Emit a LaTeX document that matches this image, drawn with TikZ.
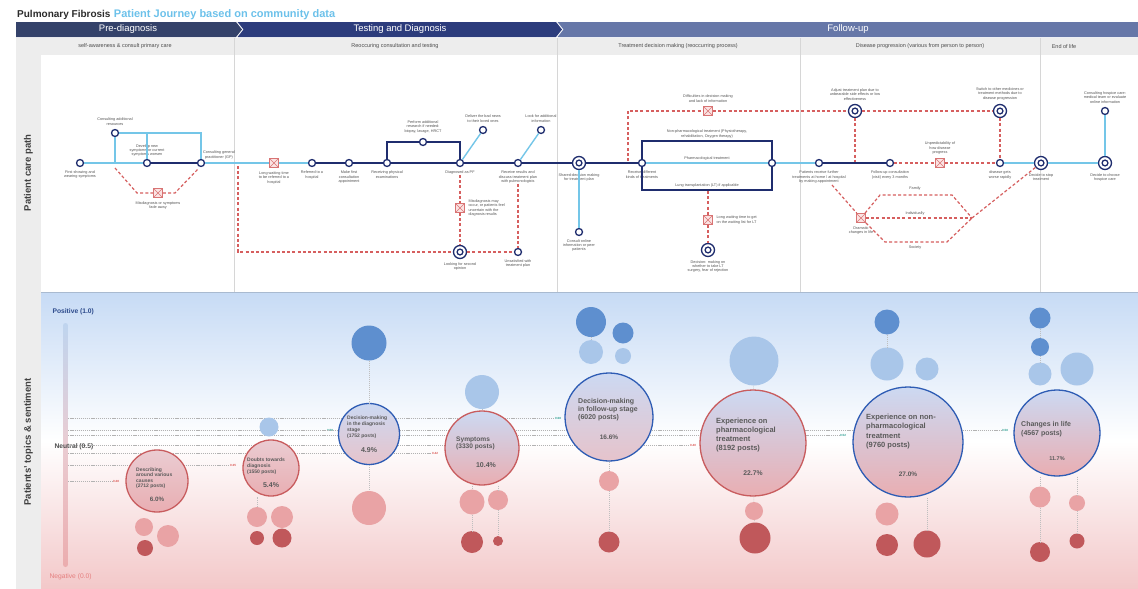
\documentclass[tikz,border=0pt]{standalone}
\usepackage{fontspec}
\setmainfont{Liberation Sans}
\usepackage{xcolor}
\usepackage{tikz}
\usetikzlibrary{positioning}

\definecolor{inkdark}{HTML}{2B2B2B}
\definecolor{titleblue}{HTML}{6CC1EA}
\definecolor{phasepre}{HTML}{34426A}
\definecolor{phasetest}{HTML}{2C3C7C}
\definecolor{phasefollow}{HTML}{6677A8}
\definecolor{stripgray}{HTML}{EDEDED}
\definecolor{sepgray}{HTML}{D6D6D6}
\definecolor{navy}{HTML}{1F2D6E}
\definecolor{skyline}{HTML}{74C6E8}
\definecolor{risk}{HTML}{D65F5F}
\definecolor{warnedge}{HTML}{D87474}
\definecolor{warnfill}{HTML}{FBE3E3}
\definecolor{labelgray}{HTML}{555555}
\definecolor{sentpos}{HTML}{C7DBF5}
\definecolor{sentneg}{HTML}{F3C8C9}
\definecolor{posdeep}{HTML}{5E8FCF}
\definecolor{posfaint}{HTML}{A9C6E9}
\definecolor{negfaint}{HTML}{E9A3A5}
\definecolor{negdeep}{HTML}{C0585B}
\definecolor{ringblue}{HTML}{2E5CB4}
\definecolor{ringred}{HTML}{C85C5E}
\definecolor{bubtop}{HTML}{CCD9F2}
\definecolor{bubnegtop}{HTML}{EACCD2}
\definecolor{bubbot}{HTML}{E9AEB2}
\definecolor{bubmidbot}{HTML}{E6C3CB}
\definecolor{bubtext}{HTML}{5A5A5A}
\definecolor{valred}{HTML}{D9534F}
\definecolor{valteal}{HTML}{2A9D8F}
\definecolor{posink}{HTML}{2C4A8C}
\definecolor{negink}{HTML}{E57F7F}

\begin{document}
\begin{tikzpicture}[x=1pt, y=-1pt,
    stn/.style={circle, draw=navy, line width=1.3pt, fill=white, minimum size=7pt, inner sep=0pt},
    dstn/.style={circle, draw=navy, line width=1.3pt, fill=white, minimum size=13pt, inner sep=0pt,
      path picture={\draw[navy, line width=1.3pt] (path picture bounding box.center) circle[radius=2.9pt];}},
    warnbox/.style={rectangle, draw=warnedge, fill=warnfill, line width=0.8pt, minimum size=9pt, inner sep=0pt,
      path picture={\draw[warnedge, line width=0.6pt]
        (path picture bounding box.south west) -- (path picture bounding box.north east)
        (path picture bounding box.north west) -- (path picture bounding box.south east);}},
    lbl/.style={font=\fontsize{3.8}{4.4}\selectfont, text=labelgray, align=center, inner sep=0.5pt},
    navyl/.style={draw=navy, line width=1.5pt},
    skyl/.style={draw=skyline, line width=1.4pt},
    riskl/.style={draw=risk, line width=1.2pt, dash pattern=on 3pt off 2.2pt},
    phase/.style={font=\fontsize{9.5}{11}\selectfont, text=white},
    subhead/.style={font=\fontsize{5.5}{6.5}\selectfont, text=black!70},
    sidelbl/.style={font=\fontsize{9.5}{11}\selectfont\bfseries, text=black!75, rotate=90},
    topic/.style={circle, inner sep=0pt, line width=1.3pt, top color=bubtop, bottom color=bubbot},
    topictxt/.style={anchor=north west, inner sep=0pt, align=left, text=bubtext},
    pct/.style={inner sep=0pt, text=bubtext},
    dot/.style={circle, inner sep=0pt},
    tether/.style={draw=black!25, line width=0.4pt, dash pattern=on 1pt off 1pt},
    senti/.style={draw=black!30, line width=0.35pt, dash pattern=on 1.2pt off 0.9pt},
    val/.style={font=\fontsize{3}{3.5}\selectfont\bfseries, inner sep=0.5pt}
  ]
  \useasboundingbox (0,0) rectangle (1138,589);

  % title
  \node[anchor=base west, inner sep=0pt, font=\fontsize{10}{12}\selectfont\bfseries, text=inkdark] (ttl) at (17,17) {Pulmonary Fibrosis};
  \node[anchor=base west, inner sep=0pt, font=\fontsize{11}{12}\selectfont\bfseries, text=titleblue] (ttl2) at ([xshift=3pt]ttl.base east) {Patient Journey based on community data};

  % phase bar
  \fill[phasepre] (16,22) -- (236,22) -- (242,29.5) -- (236,37) -- (16,37) -- cycle;
  \fill[phasetest] (237.5,22) -- (556,22) -- (562,29.5) -- (556,37) -- (237.5,37) -- (243.5,29.5) -- cycle;
  \fill[phasefollow] (557.5,22) -- (1138,22) -- (1138,37) -- (557.5,37) -- (563.5,29.5) -- cycle;
  \node[phase] (ph1) at (128,29.5) {Pre-diagnosis};
  \node[phase] (ph2) at (400,29.5) {Testing and Diagnosis};
  \node[phase] (ph3) at (848,29.5) {Follow-up};

  % panels
  \fill[stripgray] (16,38) rectangle (1138,589);
  \fill[white] (41,55) rectangle (1138,292);
  \shade[top color=sentpos, bottom color=sentneg, middle color=white] (41,293) rectangle (1138,589);
  \draw[black!15!sentpos, line width=0.8pt] (41,292.6) -- (1138,292.6);
  \foreach \sx in {234,557,800,1040}
    \draw[sepgray, line width=0.7pt] (\sx,38) -- (\sx,292);

  \node[subhead] (sub1) at (125,46.5) {self-awareness \& consult primary care};
  \node[subhead] (sub2) at (395,46.5) {Reoccuring consultation and testing};
  \node[subhead] (sub3) at (678,46.5) {Treatment decision making (reoccurring process)};
  \node[subhead] (sub4) at (920,46.5) {Disease progression (various from person to person)};
  \node[subhead] (sub5) at (1064,46.5) {End of life};

  \node[sidelbl] (side1) at (28.5,173) {Patient care path};
  \node[sidelbl] (side2) at (28.5,442) {Patients' topics \& sentiment};

  % ---- patient care path ----
  % pre-diagnosis
  \node[stn] (p1) at (80,163) {};
  \node[lbl, below=2.5pt of p1] (p1t) {First showing and\\ wearing symptoms};
  \coordinate (p1j) at (115,163);
  \node[stn] (p2) at (115,133) {};
  \node[lbl, above=3pt of p2] (p2t) {Consulting additional\\ resources};
  \node[stn] (p3) at (147,163) {};
  \node[lbl, above=1.5pt of p3] (p3t) {Develop new\\ symptoms or current\\ symptoms worsen};
  \node[stn] (p4) at (201,163) {};
  \node[lbl, above right=0.5pt and -1.5pt of p4] (p4t) {Consulting general\\ practitioner (GP)};
  \coordinate (p3u) at (147,133);
  \coordinate (p4u) at (201,133);
  \node[warnbox] (p5) at (158,193) {};
  \node[lbl, below=3pt of p5] (p5t) {Misdiagnosis or symptoms\\ fade away};
  \coordinate (p5a) at (115,168);
  \coordinate (p5b) at (199,168);

  \draw[skyl] (p1) -- (p3);
  \draw[skyl] (p1j) -- (p2) -- (p4u) -- (p4);
  \draw[skyl] (p3u) -- (p3);
  \draw[navyl] (p3) -- (p4);
  \draw[riskl] (p5a) -- ++(22,25) -- (p5);
  \draw[riskl] (p5) -- ++(17,0) -- (p5b);

  % testing and diagnosis
  \node[warnbox] (t1) at (274,163) {};
  \node[lbl, below=3pt of t1] (t1t) {Long waiting time\\ to be referred to a\\ hospital};
  \node[stn] (t2) at (312,163) {};
  \node[lbl, below=3pt of t2] (t2t) {Referred to a\\ hospital};
  \node[stn] (t3) at (349,163) {};
  \node[lbl, below=3pt of t3] (t3t) {Make first\\ consultation\\ appointment};
  \node[stn] (t4) at (387,163) {};
  \node[lbl, below=3pt of t4] (t4t) {Receiving physical\\ examinations};
  \node[stn] (t5) at (423,142) {};
  \node[lbl, above=4pt of t5] (t5t) {Perform additional\\ research if needed:\\ biopsy, lavage, HRCT};
  \node[stn] (t6) at (460,163) {};
  \node[lbl, below=3pt of t6] (t6t) {Diagnosed as PF};
  \node[stn] (t7) at (483,130) {};
  \node[lbl, above=3pt of t7] (t7t) {Deliver the bad news\\ to their loved ones};
  \node[stn] (t8) at (518,163) {};
  \node[lbl, below=3pt of t8] (t8t) {Receive results and\\ discuss treatment plan\\ with pulmonologists};
  \node[stn] (t11) at (541,130) {};
  \node[lbl, above=3pt of t11] (t11t) {Look for additional\\ information};
  \node[warnbox] (t12) at (460,208) {};
  \node[lbl, right=3pt of t12, align=left] (t12t) {Misdiagnosis may\\ occur, or patients feel\\ uncertain with the\\ diagnosis results};
  \node[dstn] (t9) at (460,252) {};
  \node[lbl, below=2.5pt of t9] (t9t) {Looking for second\\ opinion};
  \node[stn] (t10) at (518,252) {};
  \node[lbl, below=2.5pt of t10] (t10t) {Unsatisfied with\\ treatment plan};
  \coordinate (t0) at (238,166);

  \draw[skyl] (p4) -- (t1) -- (t2);
  \draw[navyl] (t2) -- (t3) -- (t4) -- (t6) -- (t8);
  \draw[navyl] (t4) |- (t5) -| (t6);
  \draw[skyl] (t6) -- (t7);
  \draw[skyl] (t8) -- (t11);
  \draw[riskl] (t0) |- (t9);
  \draw[riskl] (t9) -- (t10);
  \draw[riskl] (t6t) -- (t12) -- (t9);
  \draw[riskl] (t8t) -- (t10);

  % treatment decision making
  \node[dstn] (f1) at (579,163) {};
  \node[lbl, below=2.5pt of f1] (f1t) {Shared-decision making\\ for treatment plan};
  \node[stn] (f2) at (579,232) {};
  \node[lbl, below=2.5pt of f2] (f2t) {Consult online\\ information or peer\\ patients};
  \node[stn] (f3) at (642,163) {};
  \node[lbl, below=3pt of f3] (f3t) {Receive different\\ kinds of treatments};
  \node[stn] (f4) at (772,163) {};
  \coordinate (r2) at (772,141);
  \coordinate (r4) at (772,190);
  \node[lbl, anchor=south] (fn1) at (707,138.5) {Non-pharmacological treatment (Physiotherapy,\\ rehabilitation, Oxygen therapy)};
  \node[lbl, anchor=south] (fn2) at (707,160.5) {Pharmacological treatment};
  \node[lbl, anchor=south] (fn3) at (707,187.5) {Lung transplantation (LT) if applicable};
  \coordinate (f5) at (628,161);
  \node[warnbox] (f6) at (708,111) {};
  \node[lbl, above=3pt of f6] (f6t) {Difficulties in decision making\\ and lack of information};
  \coordinate (f7) at (708,191);
  \node[warnbox] (f8) at (708,220) {};
  \node[lbl, right=3pt of f8, align=left] (f8t) {Long waiting time to get\\ on the waiting list for LT};
  \node[dstn] (f9) at (708,250) {};
  \node[lbl, below=2.5pt of f9] (f9t) {Decision: making on\\ whether to take LT\\ surgery, fear of rejection};

  \draw[navyl] (t8) -- (f1) -- (f3);
  \draw[navyl] (f3) |- (r2) -- (f4);
  \draw[navyl] (f3) |- (r4) -- (f4);
  \draw[skyl] (f3) -- (f4);
  \draw[skyl] (f1) -- (f2);
  \draw[riskl] (f7) -- (f8) -- (f9);

  % disease progression and end of life
  \node[dstn] (g1) at (855,111) {};
  \node[lbl, above=3pt of g1] (g1t) {Adjust treatment plan due to\\ unbearable side effects or low\\ effectiveness};
  \node[dstn] (g2) at (1000,111) {};
  \node[lbl, above=3pt of g2] (g2t) {Switch to other medicines or\\ treatment methods due to\\ disease progression};
  \node[stn] (g3) at (819,163) {};
  \node[lbl, below=3pt of g3] (g3t) {Patients receive further\\ treatments at home / at hospital\\ by making appointment};
  \node[stn] (g4) at (890,163) {};
  \node[lbl, below=3pt of g4] (g4t) {Follow-up consultation\\ (visit) every 3 months};
  \node[warnbox] (g5) at (940,163) {};
  \node[lbl, above=3pt of g5] (g5t) {Unpredictability of\\ how disease\\ progress};
  \node[stn] (g6) at (1000,163) {};
  \node[lbl, below=3pt of g6] (g6t) {disease gets\\ worse rapidly};
  \coordinate (g1d) at (855,163);
  \coordinate (g7) at (832,185);
  \node[warnbox] (g8) at (861,218) {};
  \node[lbl, below=3pt of g8] (g8t) {Dramatic\\ changes in life};
  \coordinate (g9) at (972,218);
  \node[lbl] (fam) at (915,189) {Family};
  \node[lbl] (ind) at (915,213.5) {Individually};
  \node[lbl] (soc) at (915,247.5) {Society};
  \node[dstn] (e1) at (1041,163) {};
  \node[lbl, below=2.5pt of e1] (e1t) {Decide to stop\\ treatment};
  \node[dstn] (e2) at (1105,163) {};
  \node[lbl, below=2.5pt of e2] (e2t) {Decide to choose\\ hospice care};
  \node[stn] (e3) at (1105,111) {};
  \node[lbl, above=3pt of e3] (e3t) {Consulting hospice care:\\ medical team or evaluate\\ online information};

  \draw[riskl] (f5) |- (f6);
  \draw[riskl] (f6) -- (g1);
  \draw[riskl] (g1) -- (g2);
  \draw[riskl] (g1) -- (g1d);
  \draw[riskl] (g2) -- (g6);
  \draw[skyl] (f4) -- (g3);
  \draw[navyl] (g3) -- (g4);
  \draw[riskl] (g4) -- (g5) -- (g6);
  \draw[skyl] (g6) -- (e1) -- (e2);
  \draw[skyl] (e2) -- (e3);
  \draw[riskl] (g7) -- (g8);
  \draw[riskl] (g8) -- ++(19,-23) -- ++(72,0) -- (g9);
  \draw[riskl] (g8) -- (g9);
  \draw[riskl] (g8) -- ++(24,24) -- ++(62,0) -- (g9);
  \draw[riskl] (g9) -- (e1);

  % ---- topics and sentiment ----
  \node[rounded corners=2.5pt, minimum width=5pt, minimum height=244pt, inner sep=0pt,
    top color=posfaint!75, bottom color=negfaint!90, middle color=bubnegtop] (sbar) at (65.5,445) {};
  \node[anchor=west, font=\fontsize{6.7}{8}\selectfont\bfseries, text=posink] (pos) at (49,312) {Positive (1.0)};
  \node[anchor=west, font=\fontsize{6.7}{8}\selectfont\bfseries, text=black!70] (neu) at (51,447) {Neutral (0.5)};
  \node[anchor=west, font=\fontsize{6.7}{8}\selectfont, text=negink] (neg) at (46,577) {Negative (0.0)};

  \node[val, text=valred] (v1) at (116,481) {0.28};
  \node[val, text=valred] (v2) at (233,465) {0.35};
  \node[val, text=valteal] (v3) at (330,430) {0.58};
  \node[val, text=valred] (v4) at (435,453) {0.42};
  \node[val, text=valteal] (v5) at (558,418) {0.68};
  \node[val, text=valred] (v6) at (693,445) {0.40};
  \node[val, text=valteal] (v7) at (843,435) {0.52};
  \node[val, text=valteal] (v8) at (1005,430) {0.58};
  \foreach \v in {v1,v2,v3,v4,v5,v6,v7,v8}
    \draw[senti] (sbar.east |- \v) -- (\v.west);

  % main topics
  \node[topic, draw=ringred, minimum size=62pt, top color=bubnegtop] (b1) at (157,481) {};
  \node[topictxt, font=\fontsize{5}{5.4}\selectfont\bfseries] (b1t) at (136,467.5) {Describing\\ around various\\ causes\\ (2712 posts)};
  \node[pct, font=\fontsize{6.3}{7}\selectfont\bfseries] (b1p) at (157,499) {6.0\%};

  \node[topic, draw=ringred, minimum size=56pt, top color=bubnegtop] (b2) at (271,468) {};
  \node[topictxt, font=\fontsize{5}{6}\selectfont\bfseries] (b2t) at (247,457.5) {Doubts towards\\ diagnosis\\ (1550 posts)};
  \node[pct, font=\fontsize{7}{8}\selectfont\bfseries] (b2p) at (271,485) {5.4\%};

  \node[topic, draw=ringblue, minimum size=61pt, bottom color=bubmidbot] (b3) at (369,434) {};
  \node[topictxt, font=\fontsize{5}{6}\selectfont\bfseries] (b3t) at (347,415.5) {Decision-making\\ in the diagnosis\\ stage\\ (1752 posts)};
  \node[pct, font=\fontsize{7}{8}\selectfont\bfseries] (b3p) at (369,450) {4.9\%};

  \node[topic, draw=ringred, minimum size=74pt] (b4) at (482,448) {};
  \node[topictxt, font=\fontsize{6.6}{7.2}\selectfont\bfseries] (b4t) at (456,436.7) {Symptoms\\ (3330 posts)};
  \node[pct, font=\fontsize{7}{8}\selectfont\bfseries] (b4p) at (486,465) {10.4\%};

  \node[topic, draw=ringblue, minimum size=88pt, bottom color=bubmidbot] (b5) at (609,417) {};
  \node[topictxt, font=\fontsize{7}{8}\selectfont\bfseries] (b5t) at (578,398.5) {Decision-making\\ in follow-up stage\\ (6020 posts)};
  \node[pct, font=\fontsize{6.5}{7.5}\selectfont\bfseries] (b5p) at (609,437) {16.6\%};

  \node[topic, draw=ringred, minimum size=106pt] (b6) at (753,443) {};
  \node[topictxt, font=\fontsize{7.5}{9}\selectfont\bfseries] (b6t) at (716,418) {Experience on\\ pharmacological\\ treatment\\ (8192 posts)};
  \node[pct, font=\fontsize{6.8}{8}\selectfont\bfseries] (b6p) at (753,473) {22.7\%};

  \node[topic, draw=ringblue, minimum size=110pt] (b7) at (908,442) {};
  \node[topictxt, font=\fontsize{7.5}{9.3}\selectfont\bfseries] (b7t) at (866,414) {Experience on non-\\ pharmacological\\ treatment\\ (9760 posts)};
  \node[pct, font=\fontsize{6.5}{7.5}\selectfont\bfseries] (b7p) at (908,474) {27.0\%};

  \node[topic, draw=ringblue, minimum size=86pt] (b8) at (1057,433) {};
  \node[topictxt, font=\fontsize{7}{9}\selectfont\bfseries] (b8t) at (1021,421.5) {Changes in life\\ (4567 posts)};
  \node[pct, font=\fontsize{5.5}{6.5}\selectfont\bfseries] (b8p) at (1057,459) {11.7\%};

  % sub topics
  \node[dot, fill=negfaint, minimum size=18pt] (s1a) at (144,527) {};
  \node[dot, fill=negfaint, minimum size=22pt] (s1b) at (168,536) {};
  \node[dot, fill=negdeep, minimum size=16pt] (s1c) at (145,548) {};

  \node[dot, fill=posfaint, minimum size=19pt] (s2a) at (269,427) {};
  \node[dot, fill=negfaint, minimum size=20pt] (s2b) at (257,517) {};
  \node[dot, fill=negfaint, minimum size=22pt] (s2c) at (282,517) {};
  \node[dot, fill=negdeep, minimum size=14pt] (s2d) at (257,538) {};
  \node[dot, fill=negdeep, minimum size=19pt] (s2e) at (282,538) {};

  \node[dot, fill=posdeep, minimum size=35pt] (s3a) at (369,343) {};
  \node[dot, fill=negfaint, minimum size=34pt] (s3b) at (369,508) {};

  \node[dot, fill=posfaint, minimum size=34pt] (s4a) at (482,392) {};
  \node[dot, fill=negfaint, minimum size=25pt] (s4b) at (472,502) {};
  \node[dot, fill=negfaint, minimum size=20pt] (s4c) at (498,500) {};
  \node[dot, fill=negdeep, minimum size=22pt] (s4d) at (472,542) {};
  \node[dot, fill=negdeep, minimum size=10pt] (s4e) at (498,541) {};

  \node[dot, fill=posdeep, minimum size=30pt] (s5a) at (591,322) {};
  \node[dot, fill=posdeep, minimum size=21pt] (s5b) at (623,333) {};
  \node[dot, fill=posfaint, minimum size=24pt] (s5c) at (591,352) {};
  \node[dot, fill=posfaint, minimum size=16pt] (s5d) at (623,356) {};
  \node[dot, fill=negfaint, minimum size=20pt] (s5e) at (609,481) {};
  \node[dot, fill=negdeep, minimum size=21pt] (s5f) at (609,542) {};

  \node[dot, fill=posfaint, minimum size=49pt] (s6a) at (754,361) {};
  \node[dot, fill=negfaint, minimum size=18pt] (s6b) at (754,511) {};
  \node[dot, fill=negdeep, minimum size=31pt] (s6c) at (755,538) {};

  \node[dot, fill=posdeep, minimum size=25pt] (s7a) at (887,322) {};
  \node[dot, fill=posfaint, minimum size=33pt] (s7b) at (887,364) {};
  \node[dot, fill=posfaint, minimum size=23pt] (s7c) at (927,369) {};
  \node[dot, fill=negfaint, minimum size=23pt] (s7d) at (887,514) {};
  \node[dot, fill=negdeep, minimum size=22pt] (s7e) at (887,545) {};
  \node[dot, fill=negdeep, minimum size=27pt] (s7f) at (927,544) {};

  \node[dot, fill=posdeep, minimum size=21pt] (s8a) at (1040,318) {};
  \node[dot, fill=posdeep, minimum size=18pt] (s8b) at (1040,347) {};
  \node[dot, fill=posfaint, minimum size=23pt] (s8c) at (1040,374) {};
  \node[dot, fill=posfaint, minimum size=33pt] (s8d) at (1077,369) {};
  \node[dot, fill=negfaint, minimum size=21pt] (s8e) at (1040,497) {};
  \node[dot, fill=negfaint, minimum size=16pt] (s8f) at (1077,503) {};
  \node[dot, fill=negdeep, minimum size=20pt] (s8g) at (1040,552) {};
  \node[dot, fill=negdeep, minimum size=15pt] (s8h) at (1077,541) {};

  % tethers
  \draw[tether] (s2b) -- (s2b |- b2.south);
  \draw[tether] (s3a) -- (b3) -- (s3b);
  \draw[tether] (s4a) -- (b4);
  \draw[tether] (s4b |- b4.south) -- (s4b) -- (s4d);
  \draw[tether] (s4c |- b4.south) -- (s4c) -- (s4e);
  \draw[tether] (s5a) -- (s5c);
  \draw[tether] (b5) -- (s5e) -- (s5f);
  \draw[tether] (s6a) -- (b6);
  \draw[tether] (b6) -- (s6b) -- (s6c);
  \draw[tether] (s7a) -- (s7b);
  \draw[tether] (s7f |- b7.south) -- (s7f);
  \draw[tether] (s8a) -- (s8b) -- (s8c);
  \draw[tether] (s8e |- b8.south) -- (s8e) -- (s8g);
  \draw[tether] (s8f |- b8.south) -- (s8f) -- (s8h);
\end{tikzpicture}
\end{document}
